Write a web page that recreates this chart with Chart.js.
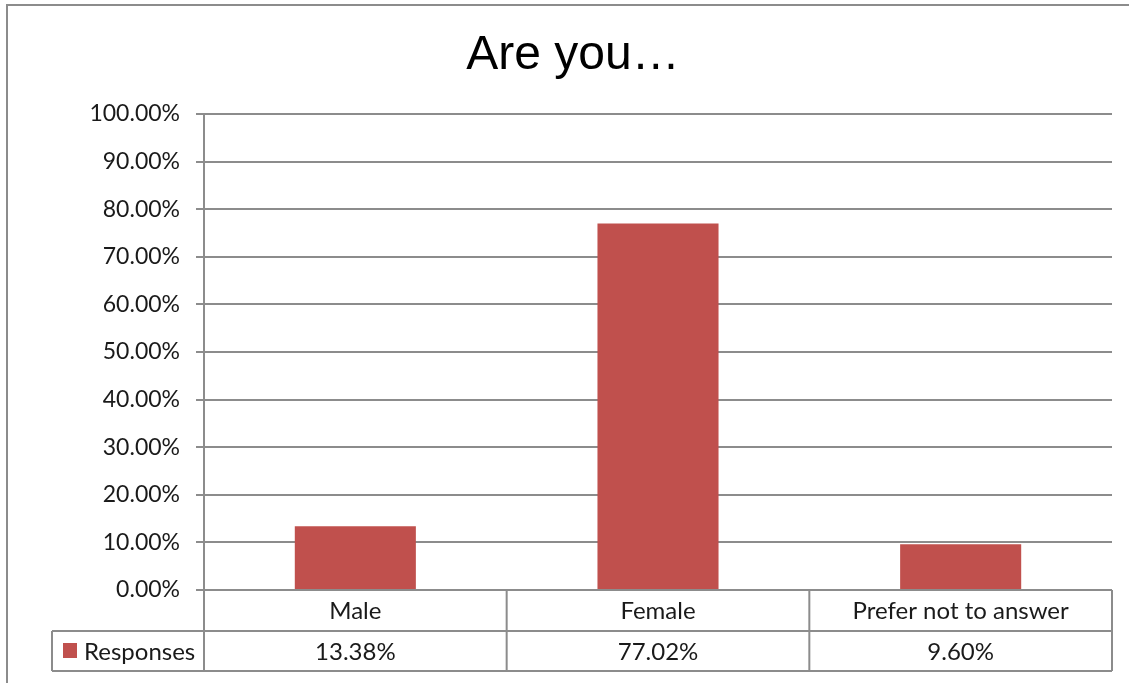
<!DOCTYPE html>
<html>
<head>
<meta charset="utf-8">
<script src="https://cdn.jsdelivr.net/npm/chart.js@4"></script>
<style>
  html, body { margin: 0; padding: 0; background: #fff; }
  #wrap { width: 1129px; height: 683px; }
</style>
</head>
<body>
<div id="wrap"><canvas id="chart" width="1129" height="683"></canvas></div>
<script>
// Chart data
const title = 'Are you\u2026';
const categories = ['Male', 'Female', 'Prefer not to answer'];
const seriesName = 'Responses';
const responses = [13.38, 77.02, 9.60];
const yTicks = [0, 10, 20, 30, 40, 50, 60, 70, 80, 90, 100];

const barColor = '#c0504d';
const lineColor = '#8c8c8c';
const fontFamily = 'Lato, "Open Sans", sans-serif';

// Draws the frame, title and the Excel-style data table under the plot
const tablePlugin = {
    id: 'dataTable',
    afterDraw(chart) {
        const ctx = chart.ctx;
        const area = chart.chartArea;
        const x = chart.scales.x;
        const half = (x.getPixelForValue(1) - x.getPixelForValue(0)) / 2;
        const row1 = area.bottom + 41;
        const row2 = row1 + 40;
        const legendLeft = 52;

        ctx.save();
        ctx.strokeStyle = lineColor;
        ctx.lineWidth = 2;

        // outer frame
        ctx.strokeRect(7, 5, 1140, 700);

        // table lines
        ctx.beginPath();
        ctx.moveTo(legendLeft, row1);
        ctx.lineTo(area.right, row1);
        ctx.moveTo(legendLeft, row2);
        ctx.lineTo(area.right, row2);
        ctx.moveTo(legendLeft, row1);
        ctx.lineTo(legendLeft, row2);
        ctx.moveTo(area.left, area.top);
        ctx.lineTo(area.left, row2);
        categories.forEach((c, i) => {
            const edge = x.getPixelForValue(i) + half;
            ctx.moveTo(edge, area.bottom);
            ctx.lineTo(edge, row2);
        });
        ctx.stroke();

        // title
        ctx.fillStyle = '#000';
        ctx.textAlign = 'center';
        ctx.textBaseline = 'middle';
        ctx.font = '48px "Liberation Sans", Arial, sans-serif';
        ctx.fillText(title, 573, 56);

        // table text
        ctx.font = '24px ' + fontFamily;
        ctx.fillStyle = '#1a1a1a';
        categories.forEach((c, i) => {
            const cx = x.getPixelForValue(i);
            ctx.fillText(c, cx, (area.bottom + row1) / 2 + 1);
            ctx.fillText(responses[i].toFixed(2) + '%', cx, (row1 + row2) / 2 + 1);
        });

        // legend key
        ctx.fillStyle = barColor;
        ctx.fillRect(63, 643, 14, 15);
        ctx.fillStyle = '#1a1a1a';
        ctx.textAlign = 'left';
        ctx.fillText(seriesName, 84, (row1 + row2) / 2 + 1);
        ctx.restore();
    }
};

const ctx = document.getElementById('chart').getContext('2d');
const chart = new Chart(ctx, {
    type: 'bar',
    data: {
        labels: categories,
        datasets: [{
            label: seriesName,
            data: responses,
            backgroundColor: barColor,
            borderWidth: 0,
            categoryPercentage: 1,
            barPercentage: 0.4
        }]
    },
    options: {
        responsive: false,
        animation: false,
        layout: {
            padding: { top: 114, left: 0, right: 17, bottom: 93 }
        },
        plugins: {
            legend: { display: false },
            title: { display: false },
            tooltip: { enabled: false }
        },
        scales: {
            x: {
                display: false
            },
            y: {
                min: 0,
                max: 100,
                afterFit(scale) { scale.width = 204; },
                afterBuildTicks(scale) {
                    scale.ticks = yTicks.map(v => ({ value: v }));
                },
                border: { display: false },
                grid: {
                    color: lineColor,
                    lineWidth: 2,
                    tickLength: 8,
                    drawTicks: true
                },
                ticks: {
                    padding: 16,
                    color: '#1a1a1a',
                    font: { family: fontFamily, size: 23 },
                    callback: v => v.toFixed(2) + '%'
                }
            }
        }
    },
    plugins: [tablePlugin]
});
</script>
</body>
</html>
